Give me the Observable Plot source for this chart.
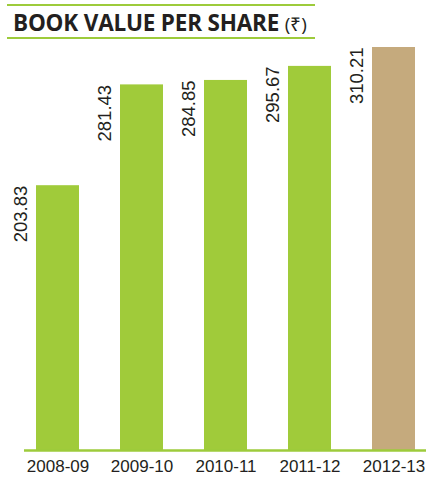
<!DOCTYPE html>
<html>
<head>
<meta charset="utf-8">
<script src="https://cdn.jsdelivr.net/npm/d3@7"></script>
<script src="https://cdn.jsdelivr.net/npm/@observablehq/plot@0.6"></script>
<style>
  html, body { margin: 0; padding: 0; background: #fff; }
  #title {
    position: absolute; left: 7px; top: 4px; width: 302px; height: 31px;
    border-top: 2px solid #9dcb3b; border-bottom: 2px solid #9dcb3b;
    font-family: "Open Sans", sans-serif; font-weight: 700; font-size: 22.5px;
    color: #231f20; line-height: 33px; padding-left: 6px; box-sizing: content-box;
    white-space: nowrap; letter-spacing: -0.2px;
  }
  #title .unit { font-weight: 400; font-size: 19px; letter-spacing: 0; }
  #chart { position: absolute; left: 0; top: 40px; }
</style>
</head>
<body>
<div id="title">BOOK VALUE PER SHARE <span class="unit">(₹)</span></div>
<div id="chart"></div>
<script>
const years = ["2008-09", "2009-10", "2010-11", "2011-12", "2012-13"];
const values = [203.83, 281.43, 284.85, 295.67, 310.21];
const colors = ["#a0cb3a", "#a0cb3a", "#a0cb3a", "#a0cb3a", "#c5aa7d"];

const data = years.map((y, i) => ({year: y, value: values[i], color: colors[i]}));

const plot = Plot.plot({
  width: 426,
  height: 442,
  marginLeft: 24,
  marginRight: 0,
  marginTop: 7,
  marginBottom: 32,
  x: {domain: years, paddingInner: 0.49, paddingOuter: 0.125, label: null, tickSize: 0, tickPadding: 9},
  y: {domain: [0, 310.21], axis: null},
  style: {fontFamily: "'Liberation Sans', sans-serif", fontSize: "17px", color: "#231f20"},
  marks: [
    Plot.barY(data, {x: "year", y: "value", fill: "color"}),
    Plot.ruleY([0], {stroke: "#9dcb3b", strokeWidth: 2.5}),
    Plot.text(data, {x: "year", y: "value", text: d => d.value.toFixed(2), rotate: -90, textAnchor: "end", dx: -37, fontSize: 18.5, fill: "#231f20"})
  ]
});
document.getElementById("chart").appendChild(plot);
</script>
</body>
</html>
